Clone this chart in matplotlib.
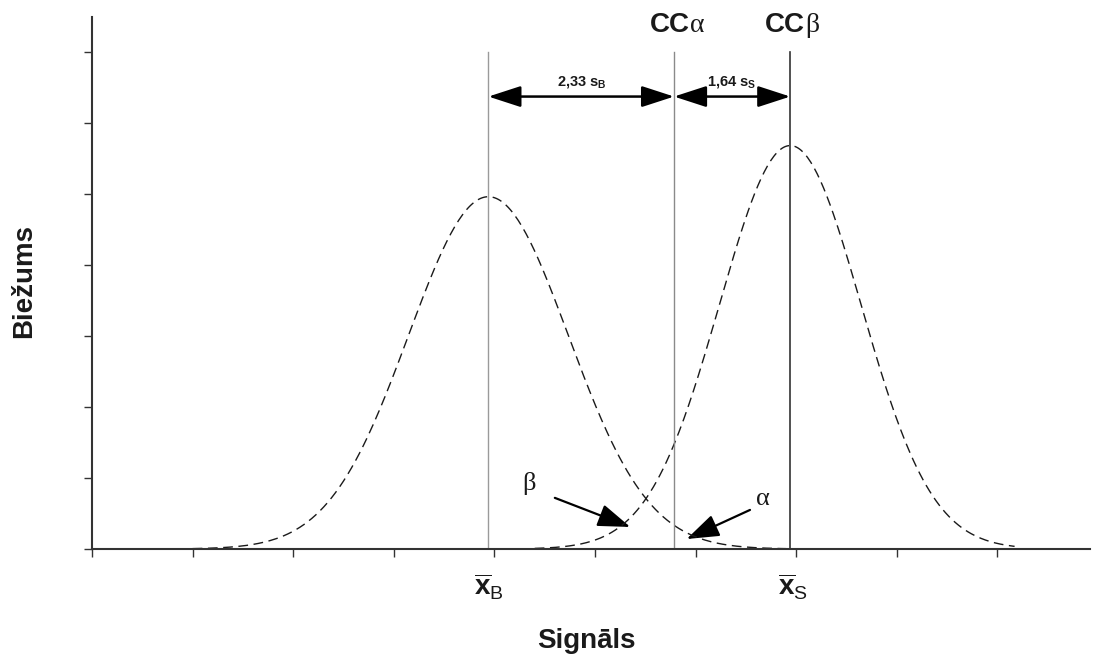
"""Detection limit sketch: blank and signal distributions with CCalpha / CCbeta."""
import matplotlib

matplotlib.use("Agg")
import matplotlib.pyplot as plt
import numpy as np
from matplotlib.patches import FancyArrowPatch

plt.rcParams["font.family"] = ["Liberation Sans", "DejaVu Sans"]
plt.rcParams["mathtext.fontset"] = "custom"
plt.rcParams["mathtext.rm"] = "Liberation Sans"
plt.rcParams["mathtext.bf"] = "Liberation Sans:bold"
plt.rcParams["mathtext.it"] = "Liberation Sans:italic"

# values (axis units: one x tick = 1, one y tick = 1)
x_ticks = list(range(0, 10))
y_ticks = list(range(0, 8))
mean_b, mean_s = 3.94, 6.94        # x̄B, x̄S
sd_b, sd_s = 0.794, 0.703          # sB, sS
peak_b, peak_s = 4.96, 5.68        # curve heights
range_b = (1.0, 6.9)               # drawn extent of the blank curve
range_s = (4.4, 9.17)              # drawn extent of the signal curve
cc_alpha = 5.785                   # x̄B + 2,33 sB
cc_beta = mean_s
line_top = 7.0
arrow_y = 6.37
arrow_labels = ["2,33 s_B", "1,64 s_S"]
arrow_label_x = [4.87, 6.36]

INK = "#1a1a1a"
SERIF = ["Liberation Serif", "DejaVu Serif"]

fig = plt.figure(figsize=(10.93, 6.57), dpi=100)
ax = fig.add_axes([0.0842, 0.1644, 0.9131, 0.8097])

# distribution curves
for mu, sd, h, (a, b) in [(mean_b, sd_b, peak_b, range_b), (mean_s, sd_s, peak_s, range_s)]:
    xx = np.linspace(a, b, 300)
    ax.plot(xx, h * np.exp(-0.5 * ((xx - mu) / sd) ** 2), color=INK, lw=1.0, dashes=(7, 4))

# vertical reference lines
ax.plot([mean_b, mean_b], [0, line_top], color="#9a9a9a", lw=1.0)
ax.plot([cc_alpha, cc_alpha], [0, line_top], color="#8a8a8a", lw=1.0)
ax.plot([cc_beta, cc_beta], [0, line_top], color="#333333", lw=1.2)

# double arrows with labels
spans = [(mean_b, cc_alpha), (cc_alpha, cc_beta)]
for (x0, x1), lab, lx in zip(spans, arrow_labels, arrow_label_x):
    ax.add_patch(FancyArrowPatch((x0, arrow_y), (x1, arrow_y),
                                 arrowstyle="<|-|>,head_length=20,head_width=6.5",
                                 mutation_scale=1, lw=1.8, color="black",
                                 shrinkA=0, shrinkB=0))
    num, sub = lab.split("_")
    ax.text(lx, 6.53,
            r"$\mathbf{" + num.replace(",", "{,}").replace(" ", r"\ ") + "_" + sub + "}$",
            ha="center", va="baseline", fontsize=10.5, color=INK)

# CC alpha / CC beta headers
for xa, greek in [(5.94, "α"), (7.09, "β")]:
    ax.text(xa, 7.28, "CC", ha="right", va="baseline", fontsize=20,
            fontweight="bold", color=INK, clip_on=False)
    ax.text(xa, 7.28, greek, ha="left", va="baseline", fontsize=20,
            family=SERIF, color=INK, clip_on=False)

# beta / alpha pointers
ax.text(4.34, 0.83, "β", ha="center", va="baseline", fontsize=19, family=SERIF, color=INK)
ax.add_patch(FancyArrowPatch((4.60, 0.72), (5.35, 0.31),
                             arrowstyle="-|>,head_length=20,head_width=7",
                             mutation_scale=1, lw=1.6, color="black",
                             shrinkA=0, shrinkB=0))
ax.text(6.67, 0.62, "α", ha="center", va="baseline", fontsize=19, family=SERIF, color=INK)
ax.add_patch(FancyArrowPatch((6.54, 0.55), (5.91, 0.14),
                             arrowstyle="-|>,head_length=20,head_width=7",
                             mutation_scale=1, lw=1.6, color="black",
                             shrinkA=0, shrinkB=0))

# x̄B and x̄S labels under the axis
ax.text(mean_b, -0.65, r"$\overline{\mathbf{x}}_{\mathrm{B}}$", ha="center",
        va="baseline", fontsize=20, color=INK, clip_on=False)
ax.text(mean_s + 0.03, -0.65, r"$\overline{\mathbf{x}}_{\mathrm{S}}$", ha="center",
        va="baseline", fontsize=20, color=INK, clip_on=False)

# axes styling
ax.set_xlim(0, 9.92)
ax.set_ylim(0, 7.49)
ax.set_xticks(x_ticks)
ax.set_yticks(y_ticks)
ax.tick_params(direction="out", length=6, width=1, color="#333333",
               labelbottom=False, labelleft=False)
for side in ("top", "right"):
    ax.spines[side].set_visible(False)
for side in ("left", "bottom"):
    ax.spines[side].set_color("#333333")
    ax.spines[side].set_linewidth(1.5)

fig.text(586 / 1093, 1 - 648 / 657, "Signāls", ha="center", va="baseline",
         fontsize=20, fontweight="bold", color=INK)
fig.text(24 / 1093, 1 - 281 / 657, "Biežums", rotation=90, ha="center", va="center",
         fontsize=20, fontweight="bold", color=INK)

fig.savefig("out.png", dpi=100)
